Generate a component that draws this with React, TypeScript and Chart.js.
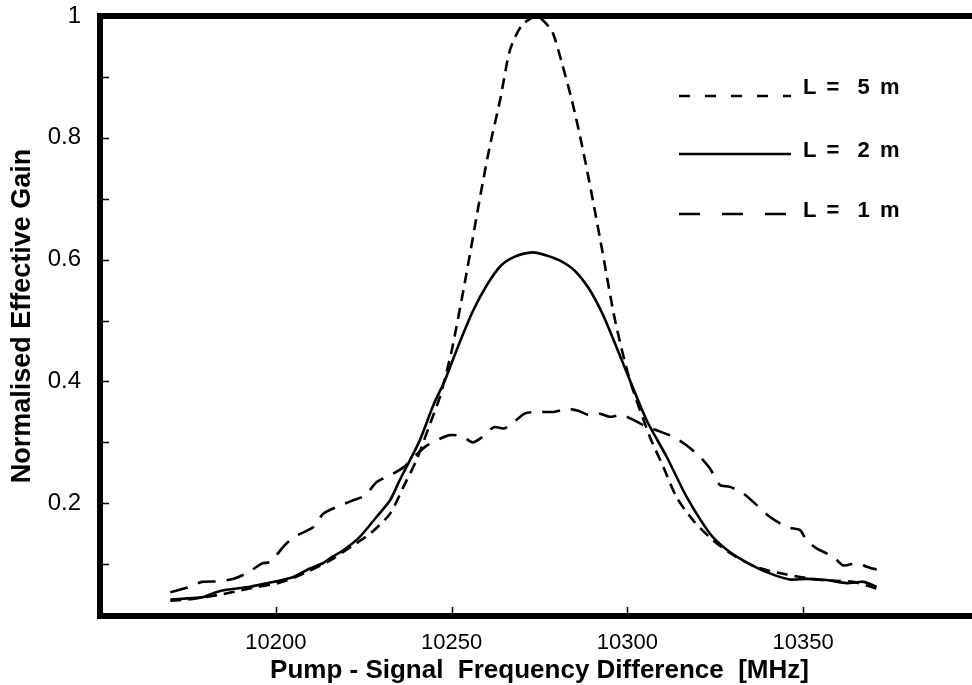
import React, { useEffect, useRef } from "react";
import { Chart, registerables } from "chart.js";

Chart.register(...registerables);

// ---------- data ----------
const FREQ_5M = [10170, 10175, 10180, 10185, 10190, 10195, 10200, 10204, 10208.8, 10215.4, 10222, 10226.8, 10232.5, 10236.3, 10240, 10243.9, 10246.7, 10250, 10254, 10258.3, 10261, 10263.8, 10266.6, 10270, 10274.2, 10276.5, 10278.8, 10281.5, 10284.2, 10287, 10289.8, 10293, 10296.5, 10300.7, 10306.4, 10310.2, 10314, 10318.7, 10324.4, 10330.1, 10336.8, 10345.3, 10353.8, 10358, 10364.2, 10370.9];
const GAIN_5M = [0.040, 0.042, 0.046, 0.051, 0.057, 0.063, 0.068, 0.075, 0.087, 0.106, 0.131, 0.150, 0.183, 0.227, 0.271, 0.331, 0.375, 0.45, 0.57, 0.709, 0.79, 0.862, 0.944, 0.985, 1.0, 0.99, 0.972, 0.92, 0.862, 0.79, 0.709, 0.61, 0.50, 0.402, 0.309, 0.260, 0.210, 0.172, 0.139, 0.115, 0.095, 0.083, 0.075, 0.073, 0.071, 0.060];

const FREQ_2M = [10170, 10175, 10179.4, 10183, 10186, 10192.7, 10196, 10200.3, 10205, 10209.7, 10213.5, 10216, 10219.2, 10223.9, 10228.7, 10232.5, 10235, 10237.2, 10241, 10244.8, 10248.1, 10252, 10256, 10260, 10264, 10268, 10273, 10277, 10281, 10285, 10289, 10293, 10297, 10300.7, 10305.5, 10311.2, 10316.9, 10323.5, 10328, 10333, 10339.6, 10346.2, 10351, 10356.7, 10362.4, 10367.1, 10370.9];
const GAIN_2M = [0.042, 0.044, 0.046, 0.054, 0.058, 0.063, 0.067, 0.072, 0.079, 0.093, 0.102, 0.112, 0.123, 0.145, 0.178, 0.205, 0.235, 0.260, 0.304, 0.361, 0.402, 0.46, 0.515, 0.558, 0.59, 0.605, 0.612, 0.607, 0.598, 0.582, 0.553, 0.51, 0.455, 0.402, 0.336, 0.276, 0.210, 0.150, 0.125, 0.106, 0.087, 0.075, 0.076, 0.074, 0.069, 0.071, 0.063];

const FREQ_1M = [10170, 10175, 10179, 10184, 10188, 10192, 10196, 10198.4, 10203, 10206, 10210.7, 10213.5, 10217.3, 10221.6, 10225.4, 10228.7, 10232.5, 10236.3, 10240, 10243, 10246.7, 10249.5, 10253, 10256, 10259, 10262, 10265, 10268, 10271, 10275, 10279, 10283, 10286, 10289, 10292.2, 10295, 10298.4, 10301.7, 10305, 10308.3, 10313.1, 10316.9, 10320.7, 10323.5, 10326.3, 10329.2, 10333, 10336.8, 10340, 10343.4, 10346, 10349.1, 10351, 10353.8, 10358.6, 10361.4, 10365.2, 10368, 10370.9];
const GAIN_1M = [0.054, 0.062, 0.071, 0.072, 0.076, 0.086, 0.101, 0.104, 0.134, 0.147, 0.161, 0.183, 0.194, 0.204, 0.213, 0.235, 0.246, 0.259, 0.28, 0.295, 0.306, 0.312, 0.31, 0.30, 0.31, 0.325, 0.323, 0.335, 0.348, 0.35, 0.35, 0.355, 0.352, 0.345, 0.347, 0.342, 0.345, 0.337, 0.327, 0.320, 0.309, 0.295, 0.276, 0.257, 0.230, 0.227, 0.216, 0.197, 0.18, 0.167, 0.16, 0.156, 0.139, 0.126, 0.112, 0.098, 0.102, 0.096, 0.091];

const SERIES_LABELS = ["L =  5 m", "L =  2 m", "L =  1 m"];
const X_TICKS = [10200, 10250, 10300, 10350];
const Y_TICKS = [0.1, 0.2, 0.3, 0.4, 0.5, 0.6, 0.7, 0.8, 0.9, 1.0];
const Y_LABELED = ["0.2", "0.4", "0.6", "0.8"];
const X_TITLE = "Pump - Signal  Frequency Difference  [MHz]";
const Y_TITLE = "Normalised Effective Gain";

// ---------- styles ----------
const FONT = '"Liberation Sans", Arial, Helvetica, sans-serif';
const CURVE_DASH = [[11, 7], [], [18, 11]];
const LEGEND_DASH = [[11, 15], [], [21, 22]];
const LEGEND_LINE_Y = [96, 154, 214];
const LEGEND_TEXT_Y = [94, 157, 217];
const LEGEND_LINE_X0 = 679;
const LEGEND_LINE_X1 = 791;
const LEGEND_TEXT_X = 803;

const toPoints = (xs: number[], ys: number[]) => xs.map((x, i) => ({ x, y: ys[i] }));

const framePlugin = {
  id: "frameAndLegend",
  afterDraw(chart: any) {
    const { ctx, chartArea, scales } = chart;
    const { left, top, right, bottom } = chartArea;
    ctx.save();
    // frame (left, top, bottom)
    ctx.strokeStyle = "#000";
    ctx.lineWidth = 6;
    ctx.lineJoin = "miter";
    ctx.setLineDash([]);
    ctx.beginPath();
    ctx.moveTo(right + 30, top);
    ctx.lineTo(left, top);
    ctx.lineTo(left, bottom);
    ctx.lineTo(right + 30, bottom);
    ctx.stroke();
    // inner tick marks
    ctx.lineWidth = 1.5;
    ctx.beginPath();
    X_TICKS.forEach((v) => {
      const px = Math.round(scales.x.getPixelForValue(v)) + 0.5;
      ctx.moveTo(px, bottom);
      ctx.lineTo(px, bottom - 9);
    });
    Y_TICKS.forEach((v) => {
      if (v >= 1) return;
      const py = Math.round(scales.y.getPixelForValue(v)) + 0.5;
      ctx.moveTo(left, py);
      ctx.lineTo(left + 9, py);
    });
    ctx.stroke();
    // legend
    chart.data.datasets.forEach((ds: any, i: number) => {
      const y = LEGEND_LINE_Y[i];
      ctx.lineWidth = 2.6;
      ctx.setLineDash(LEGEND_DASH[i]);
      ctx.beginPath();
      ctx.moveTo(LEGEND_LINE_X0, y);
      ctx.lineTo(LEGEND_LINE_X1, y);
      ctx.stroke();
      ctx.setLineDash([]);
      ctx.fillStyle = "#000";
      ctx.font = `bold 22px ${FONT}`;
      ctx.textAlign = "left";
      ctx.textBaseline = "alphabetic";
      (ctx as any).letterSpacing = "2px";
      ctx.fillText(ds.label, LEGEND_TEXT_X, LEGEND_TEXT_Y[i]);
      (ctx as any).letterSpacing = "0px";
    });
    ctx.restore();
  },
};

export default function App() {
  const canvasRef = useRef<HTMLCanvasElement | null>(null);

  useEffect(() => {
    const canvas = canvasRef.current;
    if (!canvas) return;
    const series = [
      toPoints(FREQ_5M, GAIN_5M),
      toPoints(FREQ_2M, GAIN_2M),
      toPoints(FREQ_1M, GAIN_1M),
    ];
    const chart = new Chart(canvas, {
      type: "line",
      data: {
        datasets: series.map((data, i) => ({
          label: SERIES_LABELS[i],
          data,
          borderColor: "#000",
          borderWidth: 2.6,
          borderDash: CURVE_DASH[i],
          pointRadius: 0,
          tension: 0.25,
          fill: false,
          clip: 4,
        })),
      },
      options: {
        animation: false,
        responsive: false,
        devicePixelRatio: 1,
        layout: { padding: { top: 16, right: 11, left: 0, bottom: 0 } },
        plugins: {
          legend: { display: false },
          tooltip: { enabled: false },
        },
        scales: {
          x: {
            type: "linear",
            min: 10150,
            max: 10400,
            afterBuildTicks: (s: any) => {
              s.ticks = X_TICKS.map((value) => ({ value }));
            },
            afterFit: (s: any) => {
              s.height = 69;
              s.paddingLeft = 0;
              s.paddingRight = 0;
            },
            grid: { display: false, drawTicks: false },
            border: { display: false },
            ticks: {
              color: "#000",
              font: { family: FONT, size: 22 },
              padding: 14,
              maxRotation: 0,
              autoSkip: false,
              callback: (v: any) => String(v),
            },
            title: {
              display: true,
              text: X_TITLE,
              color: "#000",
              font: { family: FONT, size: 26, weight: "bold" },
              padding: { top: 0, bottom: -1 },
            },
          },
          y: {
            type: "linear",
            min: 0.015,
            max: 1,
            afterBuildTicks: (s: any) => {
              s.ticks = Y_TICKS.map((value) => ({ value }));
            },
            afterFit: (s: any) => {
              s.width = 100;
              s.paddingTop = 0;
              s.paddingBottom = 0;
            },
            grid: { display: false, drawTicks: false },
            border: { display: false },
            ticks: {
              color: "#000",
              font: { family: FONT, size: 24 },
              padding: 19,
              autoSkip: false,
              callback: (v: any) => {
                const n = Number(v);
                if (Math.abs(n - 1) < 1e-9) return "1";
                const s = n.toFixed(1);
                return Y_LABELED.includes(s) ? s : "";
              },
            },
            title: {
              display: true,
              text: Y_TITLE,
              color: "#000",
              font: { family: FONT, size: 27, weight: "bold" },
              padding: { top: 6, bottom: 0 },
            },
          },
        },
      },
      plugins: [framePlugin],
    });
    return () => chart.destroy();
  }, []);

  return (
    <div
      style={{
        position: "fixed",
        left: 0,
        top: 0,
        width: 972,
        height: 685,
        overflow: "hidden",
        background: "#fff",
      }}
    >
      <canvas
        ref={canvasRef}
        width={990}
        height={685}
        style={{ display: "block", width: 990, height: 685 }}
      />
    </div>
  );
}
